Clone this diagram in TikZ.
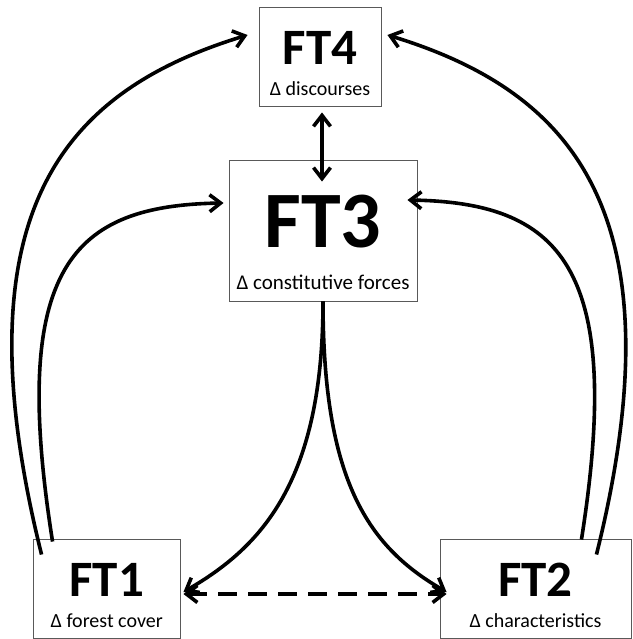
\documentclass[tikz,border=0pt]{standalone}
\usepackage{fontspec}
\setmainfont{Carlito}
\usetikzlibrary{arrows.meta}
\newcommand{\ftbig}{\fontsize{51}{51}\selectfont\bfseries}
\newcommand{\fthuge}{\fontsize{80}{80}\selectfont\bfseries}
\newcommand{\ftsub}{\fontsize{20}{20}\selectfont}
\newcommand{\ftsubl}{\fontsize{21}{21}\selectfont}
\tikzset{
  factor/.style={rectangle, draw=black!65, line width=0.9pt, align=center,
                 inner xsep=0pt, inner ysep=0pt, text=black, font=\ftsub},
  link/.style={line width=3.6pt, draw=black}
}

\begin{document}
\begin{tikzpicture}[x=1pt, y=1pt, >={Straight Barb[length=11pt,width=17pt]}]
        \useasboundingbox (0,0) rectangle (632,639);

        % --- Factors (boxes)
        \node[factor, minimum width=122pt, text height=89pt, text depth=10pt] (ft4) at (320,582.5) {{\ftbig FT4}\\[11pt]Δ discourses};
        \node[factor, minimum width=188pt, text height=130pt, text depth=11pt, font=\ftsubl] (ft3) at (323,408.5) {{\fthuge FT3}\\[21pt]Δ constitutive forces};
        \node[factor, minimum width=146.5pt, text height=88pt, text depth=11pt] (ft1) at (106.75,50.5) {{\ftbig FT1}\\[10pt]Δ forest cover};
        \node[factor, minimum width=191pt, text height=88pt, text depth=11pt] (ft2) at (535.5,50.5) {{\ftbig FT2}\\[10pt]Δ characteristics};

        % --- FT3 <-> FT4
        \draw[link, <->] ([xshift=2pt,yshift=-6pt]ft4.south) -- ([xshift=-1pt,yshift=-22pt]ft3.north);

        % --- FT1 -> FT4, FT1 -> FT3
        \draw[link, ->] ([xshift=8.5pt,yshift=-16pt]ft1.north west) to[out=104, in=197, out distance=361pt, in distance=185pt] ([xshift=-11pt,yshift=21.5pt]ft4.west);
        \draw[link, ->] ([xshift=19.5pt,yshift=-3pt]ft1.north west) to[out=99, in=181, out distance=280pt, in distance=150pt] ([xshift=-5pt,yshift=27.5pt]ft3.west);

        % --- FT2 -> FT4, FT2 -> FT3
        \draw[link, ->] ([xshift=-35pt,yshift=-16pt]ft2.north east) to[out=76, in=-17, out distance=361pt, in distance=185pt] ([xshift=6pt,yshift=21.5pt]ft4.east);
        \draw[link, ->] ([xshift=-50pt,yshift=-1pt]ft2.north east) to[out=81, in=-1, out distance=280pt, in distance=150pt] ([xshift=-10pt,yshift=30.5pt]ft3.east);

        % --- FT3 -> FT1, FT3 -> FT2
        \draw[link, ->] (ft3.south) to[out=-90, in=30, out distance=180pt, in distance=90pt] ([xshift=3pt,yshift=-3.5pt]ft1.east);
        \draw[link, ->] (ft3.south) to[out=-90, in=150, out distance=180pt, in distance=90pt] ([xshift=7pt,yshift=-3.5pt]ft2.west);

        % --- FT1 <-> FT2
        \draw[link, <->, dash pattern=on 19pt off 11pt] ([xshift=3pt,yshift=-5.5pt]ft1.east) -- ([xshift=7pt,yshift=-5.5pt]ft2.west);

        \end{tikzpicture}
\end{document}
